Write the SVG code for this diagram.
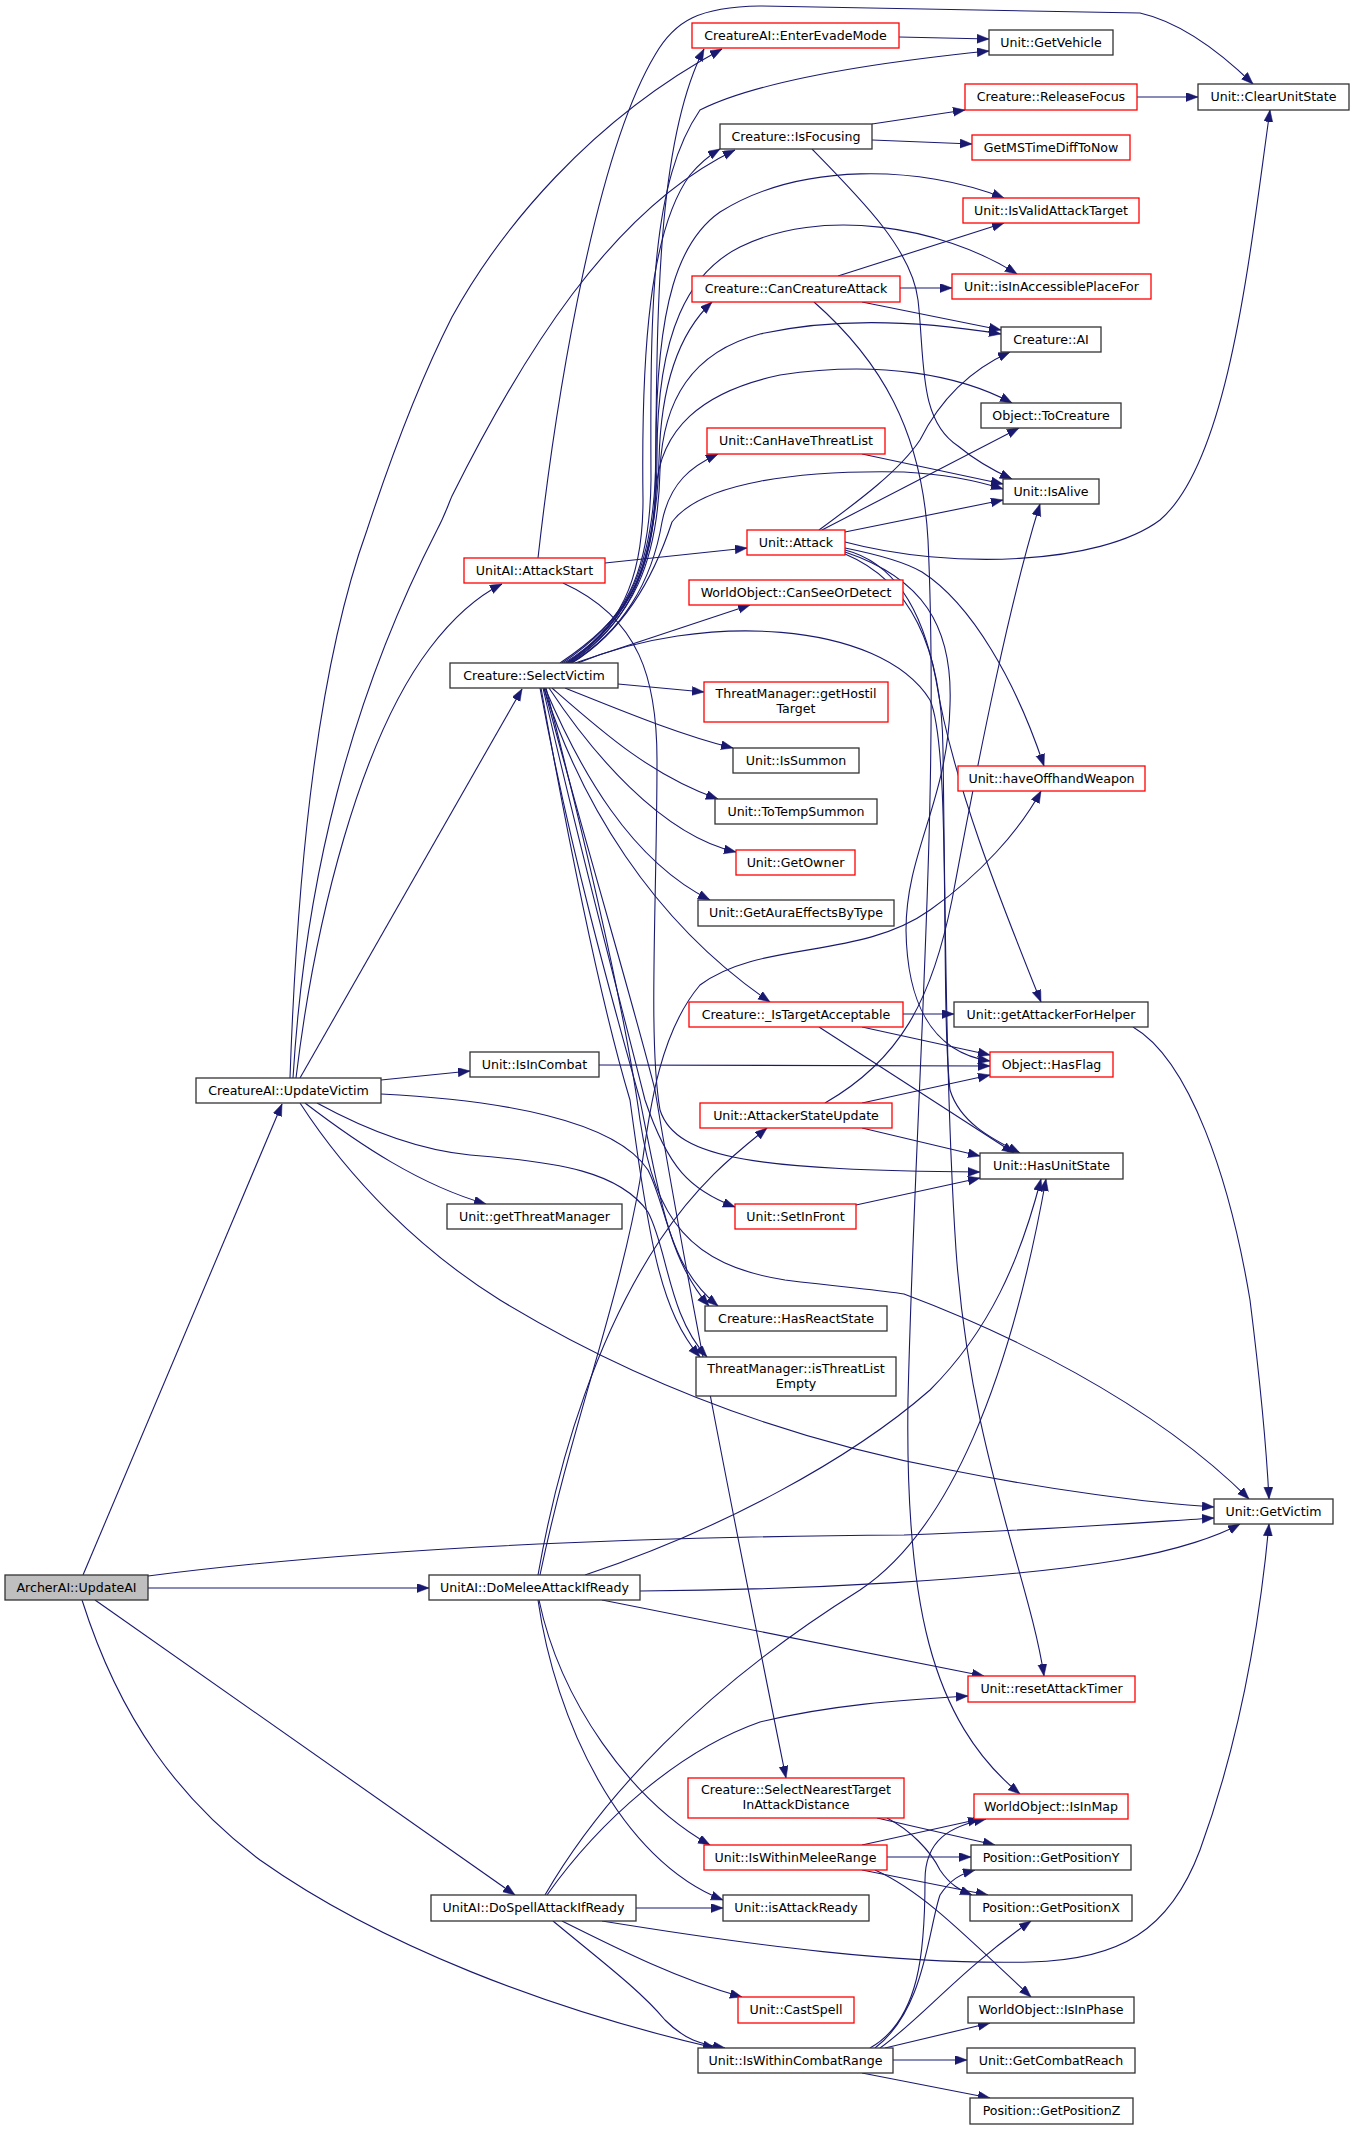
<svg xmlns="http://www.w3.org/2000/svg" width="1355" height="2129" viewBox="0 0 1355 2129">
<style>
.e{fill:none;stroke:#191970;stroke-width:1.1;marker-end:url(#a)}
.n rect{fill:#fff;stroke:#333;stroke-width:1.3}
.r rect{stroke:#ff0000}
.root rect{fill:#bfbfbf}
text{font-family:"DejaVu Sans",sans-serif;font-size:12.6px;text-anchor:middle;fill:#000}
</style>
<defs>
<marker id="a" markerUnits="userSpaceOnUse" markerWidth="13" markerHeight="10" refX="12" refY="4.5" orient="auto"><path d="M0,0 L12,4.5 L0,9 z" fill="#191970" stroke="#191970" stroke-width="0.5"/></marker>
</defs>
<rect width="1355" height="2129" fill="#fff"/>
<g id="edges">
<path class="e" d="M83,1575 L282,1104"/>
<path class="e" d="M148,1576 C 350,1550 600,1537 904,1535 C 1050,1530 1150,1522 1214,1518"/>
<path class="e" d="M148,1588 L429,1588"/>
<path class="e" d="M95,1600 L515,1895"/>
<path class="e" d="M82,1600 C 120,1720 180,1800 260,1860 C 380,1945 550,2010 715,2048"/>
<path class="e" d="M290,1078 C 298,850 320,660 367,530 C 390,460 420,380 452,317 C 500,230 590,120 722,49"/>
<path class="e" d="M293,1078 C 305,880 350,700 437,530 C 445,515 448,505 452,496 C 520,360 610,210 735,150"/>
<path class="e" d="M296,1078 C 315,920 360,740 430,648 C 455,615 478,596 502,584"/>
<path class="e" d="M300,1078 L522,689"/>
<path class="e" d="M381,1080 L470,1071"/>
<path class="e" d="M381,1094 C 500,1100 615,1120 648,1170 C 668,1210 668,1265 718,1306"/>
<path class="e" d="M317,1103 C 370,1132 420,1150 470,1155 C 560,1162 620,1172 648,1212 C 668,1250 668,1315 707,1357"/>
<path class="e" d="M305,1103 C 360,1145 420,1185 486,1204"/>
<path class="e" d="M300,1103 C 350,1180 420,1250 500,1300 C 640,1385 790,1440 950,1470 C 1050,1490 1150,1503 1214,1507"/>
<path class="e" d="M538,558 C 558,380 598,150 655,55 C 675,20 700,7 760,6 L 1140,13 C 1180,22 1220,52 1253,84"/>
<path class="e" d="M605,563 L747,548"/>
<path class="e" d="M563,583 C 640,618 657,680 657,760 C 657,900 648,1040 660,1110 C 676,1160 760,1170 980,1172"/>
<path class="e" d="M872,124 L965,110"/>
<path class="e" d="M872,140 L972,144"/>
<path class="e" d="M812,149 C 862,200 912,250 918,300 C 925,360 918,420 958,446 C 975,460 992,470 1012,479"/>
<path class="e" d="M838,276 L1004,223"/>
<path class="e" d="M900,288 L952,288"/>
<path class="e" d="M862,302 L1001,330"/>
<path class="e" d="M814,302 C 880,360 922,430 928,540 C 940,800 915,1100 908,1400 C 905,1600 930,1720 1020,1794"/>
<path class="e" d="M862,454 L1003,484"/>
<path class="e" d="M819,530 C 860,500 900,470 920,440 C 940,400 970,370 1010,352"/>
<path class="e" d="M822,530 L1019,428"/>
<path class="e" d="M845,532 L1003,500"/>
<path class="e" d="M845,542 C 950,570 1100,565 1160,520 C 1230,460 1250,250 1270,110"/>
<path class="e" d="M845,548 C 880,555 905,562 922,572 C 972,604 1016,682 1044,766"/>
<path class="e" d="M845,550 C 892,562 922,605 936,680 C 952,780 1000,900 1041,1002"/>
<path class="e" d="M845,552 C 922,578 953,625 950,705 C 948,800 906,852 906,930 C 907,1000 930,1052 990,1061"/>
<path class="e" d="M845,554 C 912,582 942,650 943,750 C 945,900 946,1100 956,1250 C 970,1450 1030,1580 1044,1676"/>
<path class="e" d="M903,1014 L954,1014"/>
<path class="e" d="M862,1027 L990,1055"/>
<path class="e" d="M819,1027 L1014,1153"/>
<path class="e" d="M599,1065 L990,1066"/>
<path class="e" d="M825,1103 C 900,1060 932,1000 952,900 C 980,750 1010,600 1040,504"/>
<path class="e" d="M862,1103 L990,1075"/>
<path class="e" d="M862,1128 L980,1156"/>
<path class="e" d="M856,1205 L980,1178"/>
<path class="e" d="M1133,1027 C 1190,1060 1230,1180 1250,1300 C 1260,1380 1266,1440 1269,1499"/>
<path class="e" d="M560,663 C 622,622 652,580 655,500 C 658,350 652,150 704,49"/>
<path class="e" d="M562,663 C 625,622 650,575 651,480 C 650,300 652,180 700,110 C 760,80 880,62 989,51"/>
<path class="e" d="M564,663 C 620,630 643,580 643,500 C 641,350 650,230 690,175 C 700,163 710,155 720,149"/>
<path class="e" d="M566,663 C 630,622 656,560 656,450 C 656,300 680,240 720,212 C 800,162 920,165 1004,198"/>
<path class="e" d="M567,663 C 632,620 657,560 657,455 C 657,330 690,272 740,247 C 820,207 940,225 1017,274"/>
<path class="e" d="M568,663 C 632,620 656,560 659,460 C 661,380 682,330 712,302"/>
<path class="e" d="M569,663 C 634,620 658,560 660,470 C 663,400 692,352 760,334 C 850,314 940,324 1001,334"/>
<path class="e" d="M570,663 C 628,625 652,570 656,490 C 660,430 700,392 780,375 C 880,360 960,375 1012,403"/>
<path class="e" d="M571,663 C 622,632 652,582 662,522 C 670,482 692,466 718,454"/>
<path class="e" d="M572,663 C 622,632 652,582 672,522 C 702,482 800,470 904,472 C 940,474 975,480 1003,489"/>
<path class="e" d="M575,663 L750,605"/>
<path class="e" d="M578,663 C 700,612 880,620 930,700 C 952,750 940,1000 950,1090 C 960,1122 990,1138 1020,1153"/>
<path class="e" d="M618,684 L704,692"/>
<path class="e" d="M565,688 C 620,710 680,735 733,748"/>
<path class="e" d="M552,688 C 600,730 650,775 718,799"/>
<path class="e" d="M549,688 C 590,750 660,835 736,852"/>
<path class="e" d="M545,688 C 580,770 630,860 710,900"/>
<path class="e" d="M544,688 C 580,800 650,920 770,1002"/>
<path class="e" d="M540,688 C 570,850 612,1000 640,1100 C 660,1200 670,1262 709,1306"/>
<path class="e" d="M541,688 C 570,850 600,1000 630,1100 C 650,1250 662,1312 700,1357"/>
<path class="e" d="M543,688 C 580,850 620,1000 645,1100 C 668,1168 690,1190 735,1207"/>
<path class="e" d="M544,688 C 590,860 635,1010 655,1090 C 690,1300 740,1550 786,1778"/>
<path class="e" d="M546,688 C 590,860 625,1010 640,1120 C 655,1220 690,1265 785,1280 C 850,1288 880,1290 904,1294 C 1000,1330 1150,1400 1249,1499"/>
<path class="e" d="M538,1575 C 560,1450 600,1330 660,1240 C 700,1180 740,1150 767,1128"/>
<path class="e" d="M540,1575 C 570,1430 620,1300 640,1180 C 650,1100 662,1030 700,985 C 760,940 860,960 930,910 C 980,875 1020,830 1041,791"/>
<path class="e" d="M539,1600 C 560,1700 630,1800 710,1845"/>
<path class="e" d="M538,1600 C 555,1720 620,1860 723,1900"/>
<path class="e" d="M585,1575 C 720,1530 850,1460 930,1390 C 990,1330 1020,1260 1041,1179"/>
<path class="e" d="M640,1591 C 800,1590 1000,1580 1120,1560 C 1180,1550 1220,1535 1240,1524"/>
<path class="e" d="M602,1600 L984,1676"/>
<path class="e" d="M545,1895 C 600,1800 700,1690 860,1590 C 950,1530 1010,1380 1046,1179"/>
<path class="e" d="M547,1895 C 600,1820 680,1750 760,1722 C 830,1705 900,1700 968,1696"/>
<path class="e" d="M636,1908 L723,1908"/>
<path class="e" d="M602,1921 C 750,1945 900,1965 1030,1962 C 1120,1960 1170,1930 1200,1850 C 1240,1740 1260,1620 1269,1524"/>
<path class="e" d="M562,1921 C 620,1950 680,1980 742,1997"/>
<path class="e" d="M553,1921 C 600,1960 640,1990 665,2020 C 685,2040 700,2044 725,2048"/>
<path class="e" d="M862,1845 L980,1819"/>
<path class="e" d="M887,1857 L971,1857"/>
<path class="e" d="M862,1870 L988,1895"/>
<path class="e" d="M875,1870 C 920,1890 960,1930 1031,1997"/>
<path class="e" d="M877,1818 L995,1845"/>
<path class="e" d="M887,1818 C 910,1830 930,1850 940,1870 C 950,1885 960,1890 972,1895"/>
<path class="e" d="M870,2048 C 920,2020 925,1950 925,1880 C 925,1840 950,1826 986,1819"/>
<path class="e" d="M875,2048 C 925,2010 928,1930 940,1895 C 950,1880 960,1874 975,1870"/>
<path class="e" d="M880,2048 C 920,2020 960,1970 1031,1921"/>
<path class="e" d="M885,2048 L990,2023"/>
<path class="e" d="M893,2060 L967,2060"/>
<path class="e" d="M862,2073 L990,2098"/>
<path class="e" d="M899,37 L989,39"/>
<path class="e" d="M1137,97 L1198,97"/>
</g>
<g id="n_EnterEvadeMode" class="n r"><rect x="692" y="23" width="207" height="25"/><text x="795.5" y="40">CreatureAI::EnterEvadeMode</text></g>
<g id="n_GetVehicle" class="n"><rect x="989" y="30" width="124" height="25"/><text x="1051" y="47">Unit::GetVehicle</text></g>
<g id="n_ReleaseFocus" class="n r"><rect x="965" y="84" width="172" height="26"/><text x="1051" y="101">Creature::ReleaseFocus</text></g>
<g id="n_ClearUnitState" class="n"><rect x="1198" y="84" width="151" height="26"/><text x="1273.5" y="101">Unit::ClearUnitState</text></g>
<g id="n_IsFocusing" class="n"><rect x="720" y="124" width="152" height="25"/><text x="796" y="141">Creature::IsFocusing</text></g>
<g id="n_GetMSTimeDiffToNow" class="n r"><rect x="972" y="135" width="158" height="25"/><text x="1051" y="152">GetMSTimeDiffToNow</text></g>
<g id="n_IsValidAttackTarget" class="n r"><rect x="963" y="198" width="176" height="25"/><text x="1051" y="215">Unit::IsValidAttackTarget</text></g>
<g id="n_CanCreatureAttack" class="n r"><rect x="692" y="276" width="208" height="26"/><text x="796" y="293">Creature::CanCreatureAttack</text></g>
<g id="n_isInAccessiblePlaceFor" class="n r"><rect x="952" y="274" width="199" height="25"/><text x="1051.5" y="291">Unit::isInAccessiblePlaceFor</text></g>
<g id="n_CreatureAI" class="n"><rect x="1001" y="327" width="100" height="25"/><text x="1051" y="344">Creature::AI</text></g>
<g id="n_ToCreature" class="n"><rect x="981" y="403" width="140" height="25"/><text x="1051" y="420">Object::ToCreature</text></g>
<g id="n_CanHaveThreatList" class="n r"><rect x="707" y="428" width="178" height="26"/><text x="796" y="445">Unit::CanHaveThreatList</text></g>
<g id="n_IsAlive" class="n"><rect x="1003" y="479" width="96" height="25"/><text x="1051" y="496">Unit::IsAlive</text></g>
<g id="n_Attack" class="n r"><rect x="747" y="530" width="98" height="25"/><text x="796" y="547">Unit::Attack</text></g>
<g id="n_AttackStart" class="n r"><rect x="464" y="558" width="141" height="25"/><text x="534.5" y="575">UnitAI::AttackStart</text></g>
<g id="n_CanSeeOrDetect" class="n r"><rect x="689" y="580" width="214" height="25"/><text x="796" y="597">WorldObject::CanSeeOrDetect</text></g>
<g id="n_SelectVictim" class="n"><rect x="450" y="663" width="168" height="25"/><text x="534" y="680">Creature::SelectVictim</text></g>
<g id="n_getHostilTarget" class="n r"><rect x="704" y="682" width="184" height="40"/><text x="796" y="698">ThreatManager::getHostil</text><text x="796" y="713">Target</text></g>
<g id="n_IsSummon" class="n"><rect x="733" y="748" width="126" height="25"/><text x="796" y="765">Unit::IsSummon</text></g>
<g id="n_haveOffhandWeapon" class="n r"><rect x="958" y="766" width="187" height="25"/><text x="1051.5" y="783">Unit::haveOffhandWeapon</text></g>
<g id="n_ToTempSummon" class="n"><rect x="715" y="799" width="162" height="25"/><text x="796" y="816">Unit::ToTempSummon</text></g>
<g id="n_GetOwner" class="n r"><rect x="736" y="850" width="119" height="25"/><text x="795.5" y="867">Unit::GetOwner</text></g>
<g id="n_GetAuraEffectsByType" class="n"><rect x="698" y="900" width="196" height="26"/><text x="796" y="917">Unit::GetAuraEffectsByType</text></g>
<g id="n_IsTargetAcceptable" class="n r"><rect x="689" y="1002" width="214" height="25"/><text x="796" y="1019">Creature::_IsTargetAcceptable</text></g>
<g id="n_getAttackerForHelper" class="n"><rect x="954" y="1002" width="194" height="25"/><text x="1051" y="1019">Unit::getAttackerForHelper</text></g>
<g id="n_IsInCombat" class="n"><rect x="470" y="1052" width="129" height="25"/><text x="534.5" y="1069">Unit::IsInCombat</text></g>
<g id="n_HasFlag" class="n r"><rect x="990" y="1052" width="123" height="25"/><text x="1051.5" y="1069">Object::HasFlag</text></g>
<g id="n_UpdateVictim" class="n"><rect x="196" y="1078" width="185" height="25"/><text x="288.5" y="1095">CreatureAI::UpdateVictim</text></g>
<g id="n_AttackerStateUpdate" class="n r"><rect x="700" y="1103" width="192" height="25"/><text x="796" y="1120">Unit::AttackerStateUpdate</text></g>
<g id="n_HasUnitState" class="n"><rect x="980" y="1153" width="143" height="26"/><text x="1051.5" y="1170">Unit::HasUnitState</text></g>
<g id="n_getThreatManager" class="n"><rect x="447" y="1204" width="175" height="25"/><text x="534.5" y="1221">Unit::getThreatManager</text></g>
<g id="n_SetInFront" class="n r"><rect x="735" y="1204" width="121" height="25"/><text x="795.5" y="1221">Unit::SetInFront</text></g>
<g id="n_HasReactState" class="n"><rect x="705" y="1306" width="182" height="25"/><text x="796" y="1323">Creature::HasReactState</text></g>
<g id="n_isThreatListEmpty" class="n"><rect x="696" y="1357" width="200" height="39"/><text x="796" y="1373">ThreatManager::isThreatList</text><text x="796" y="1388">Empty</text></g>
<g id="n_GetVictim" class="n"><rect x="1214" y="1499" width="119" height="25"/><text x="1273.5" y="1516">Unit::GetVictim</text></g>
<g id="n_ArcherAI_UpdateAI" class="n root"><rect x="5" y="1575" width="143" height="25"/><text x="76.5" y="1592">ArcherAI::UpdateAI</text></g>
<g id="n_DoMeleeAttackIfReady" class="n"><rect x="429" y="1575" width="211" height="25"/><text x="534.5" y="1592">UnitAI::DoMeleeAttackIfReady</text></g>
<g id="n_resetAttackTimer" class="n r"><rect x="968" y="1676" width="167" height="26"/><text x="1051.5" y="1693">Unit::resetAttackTimer</text></g>
<g id="n_SelectNearestTarget" class="n r"><rect x="688" y="1778" width="216" height="40"/><text x="796" y="1794">Creature::SelectNearestTarget</text><text x="796" y="1809">InAttackDistance</text></g>
<g id="n_IsInMap" class="n r"><rect x="974" y="1794" width="154" height="25"/><text x="1051" y="1811">WorldObject::IsInMap</text></g>
<g id="n_IsWithinMeleeRange" class="n r"><rect x="704" y="1845" width="183" height="25"/><text x="795.5" y="1862">Unit::IsWithinMeleeRange</text></g>
<g id="n_GetPositionY" class="n"><rect x="971" y="1845" width="160" height="25"/><text x="1051" y="1862">Position::GetPositionY</text></g>
<g id="n_DoSpellAttackIfReady" class="n"><rect x="431" y="1895" width="205" height="26"/><text x="533.5" y="1912">UnitAI::DoSpellAttackIfReady</text></g>
<g id="n_isAttackReady" class="n"><rect x="723" y="1895" width="146" height="26"/><text x="796" y="1912">Unit::isAttackReady</text></g>
<g id="n_GetPositionX" class="n"><rect x="970" y="1895" width="162" height="26"/><text x="1051" y="1912">Position::GetPositionX</text></g>
<g id="n_CastSpell" class="n r"><rect x="738" y="1997" width="116" height="26"/><text x="796" y="2014">Unit::CastSpell</text></g>
<g id="n_IsInPhase" class="n"><rect x="968" y="1997" width="166" height="26"/><text x="1051" y="2014">WorldObject::IsInPhase</text></g>
<g id="n_IsWithinCombatRange" class="n"><rect x="698" y="2048" width="195" height="25"/><text x="795.5" y="2065">Unit::IsWithinCombatRange</text></g>
<g id="n_GetCombatReach" class="n"><rect x="967" y="2048" width="168" height="25"/><text x="1051" y="2065">Unit::GetCombatReach</text></g>
<g id="n_GetPositionZ" class="n"><rect x="970" y="2098" width="163" height="26"/><text x="1051.5" y="2115">Position::GetPositionZ</text></g>
</svg>
